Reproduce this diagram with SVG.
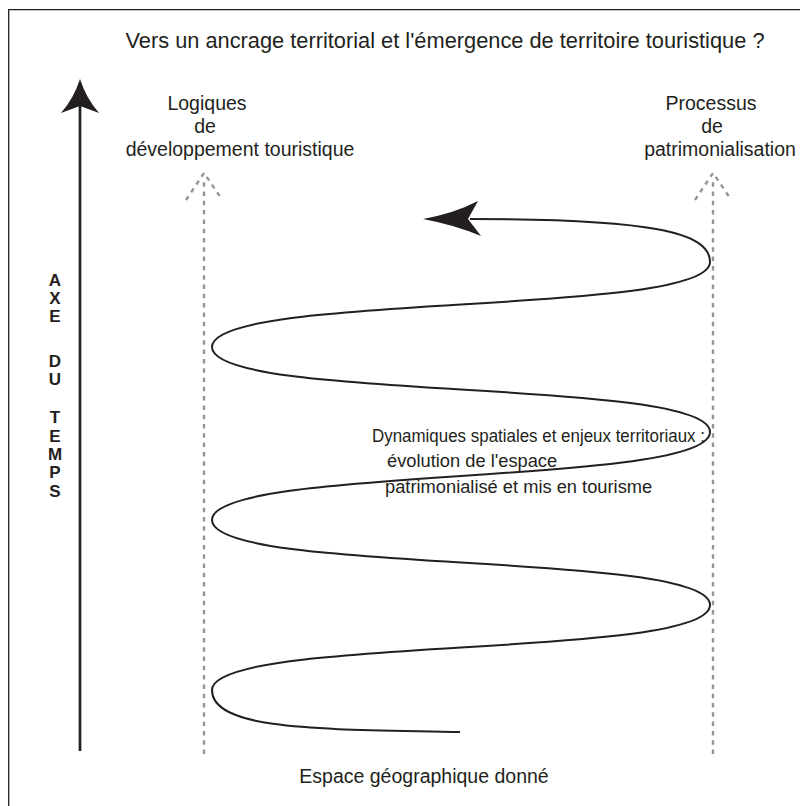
<svg xmlns="http://www.w3.org/2000/svg" width="800" height="806" viewBox="0 0 800 806">
<style>
.t{font-family:"Liberation Sans",Arial,sans-serif;font-size:17px;fill:#231f20}
.l{font-size:19.5px}
.h{font-size:21.8px}
.d{font-size:18.3px}
.b{font-family:"Liberation Sans",Arial,sans-serif;font-size:17px;font-weight:bold;fill:#231f20;text-anchor:middle}
.dash{fill:none;stroke:#939598;stroke-width:2.4;stroke-dasharray:4.5 4.8}
.sp{fill:none;stroke:#231f20;stroke-width:2}
</style>
<rect width="800" height="806" fill="#fff"/>
<g id="frame"><path d="M8.7,806 V9.7 H800" fill="none" stroke="#231f20" stroke-width="1.3"/></g>
<g id="title"><text class="t h" x="445" y="48" text-anchor="middle">Vers un ancrage territorial et l'émergence de territoire touristique ?</text></g>
<g id="logiques"><text class="t l" text-anchor="middle"><tspan x="207" y="110">Logiques</tspan><tspan x="205" y="133">de</tspan><tspan x="240" y="156">développement touristique</tspan></text></g>
<g id="processus"><text class="t l" text-anchor="middle"><tspan x="711" y="110">Processus</tspan><tspan x="712" y="133">de</tspan><tspan x="720" y="156">patrimonialisation</tspan></text></g>
<g id="axe"><text class="b"><tspan x="55" y="286">A</tspan><tspan x="55" y="304">X</tspan><tspan x="55" y="322">E</tspan><tspan x="55" y="367">D</tspan><tspan x="55" y="385">U</tspan><tspan x="55" y="423">T</tspan><tspan x="55" y="442">E</tspan><tspan x="55" y="460">M</tspan><tspan x="55" y="478">P</tspan><tspan x="55" y="497">S</tspan></text></g>
<g id="dynamiques"><text class="t d"><tspan x="372" y="442" textLength="333" lengthAdjust="spacingAndGlyphs">Dynamiques spatiales et enjeux territoriaux :</tspan><tspan x="387" y="467">évolution de l'espace</tspan><tspan x="385" y="493">patrimonialisé et mis en tourisme</tspan></text></g>
<g id="espace"><text class="t l" x="424" y="783" text-anchor="middle">Espace géographique donné</text></g>
<g id="connectors">
<g id="time-axis"><line x1="80" y1="104" x2="80" y2="751" stroke="#231f20" stroke-width="2.7"/><path d="M80,79 Q86,98 99,113 L80,106 L61,113 Q74,98 80,79 Z" fill="#231f20"/></g>
<g id="dashed-left"><line class="dash" x1="204" y1="754" x2="204" y2="180"/><path class="dash" d="M186,200 L204,173 L221,198"/></g>
<g id="dashed-right"><line class="dash" x1="713" y1="754" x2="713" y2="180"/><path class="dash" d="M695,200 L713,173 L730,198"/></g>
<g id="spiral"><path class="sp" d="M460,732 C330,729 212,732 212,690 C212,635 710,660 710,605 C710,550 212,575 212,520 C212,465 710,487 710,432 C710,377 212,402 212,347 C212,292 710,317 710,262 C710,232 650,219 470,219"/><path d="M423,219 Q455,213 478,201 L468,219 L481,236 Q455,225 423,219 Z" fill="#231f20"/></g>
</g>
</svg>
